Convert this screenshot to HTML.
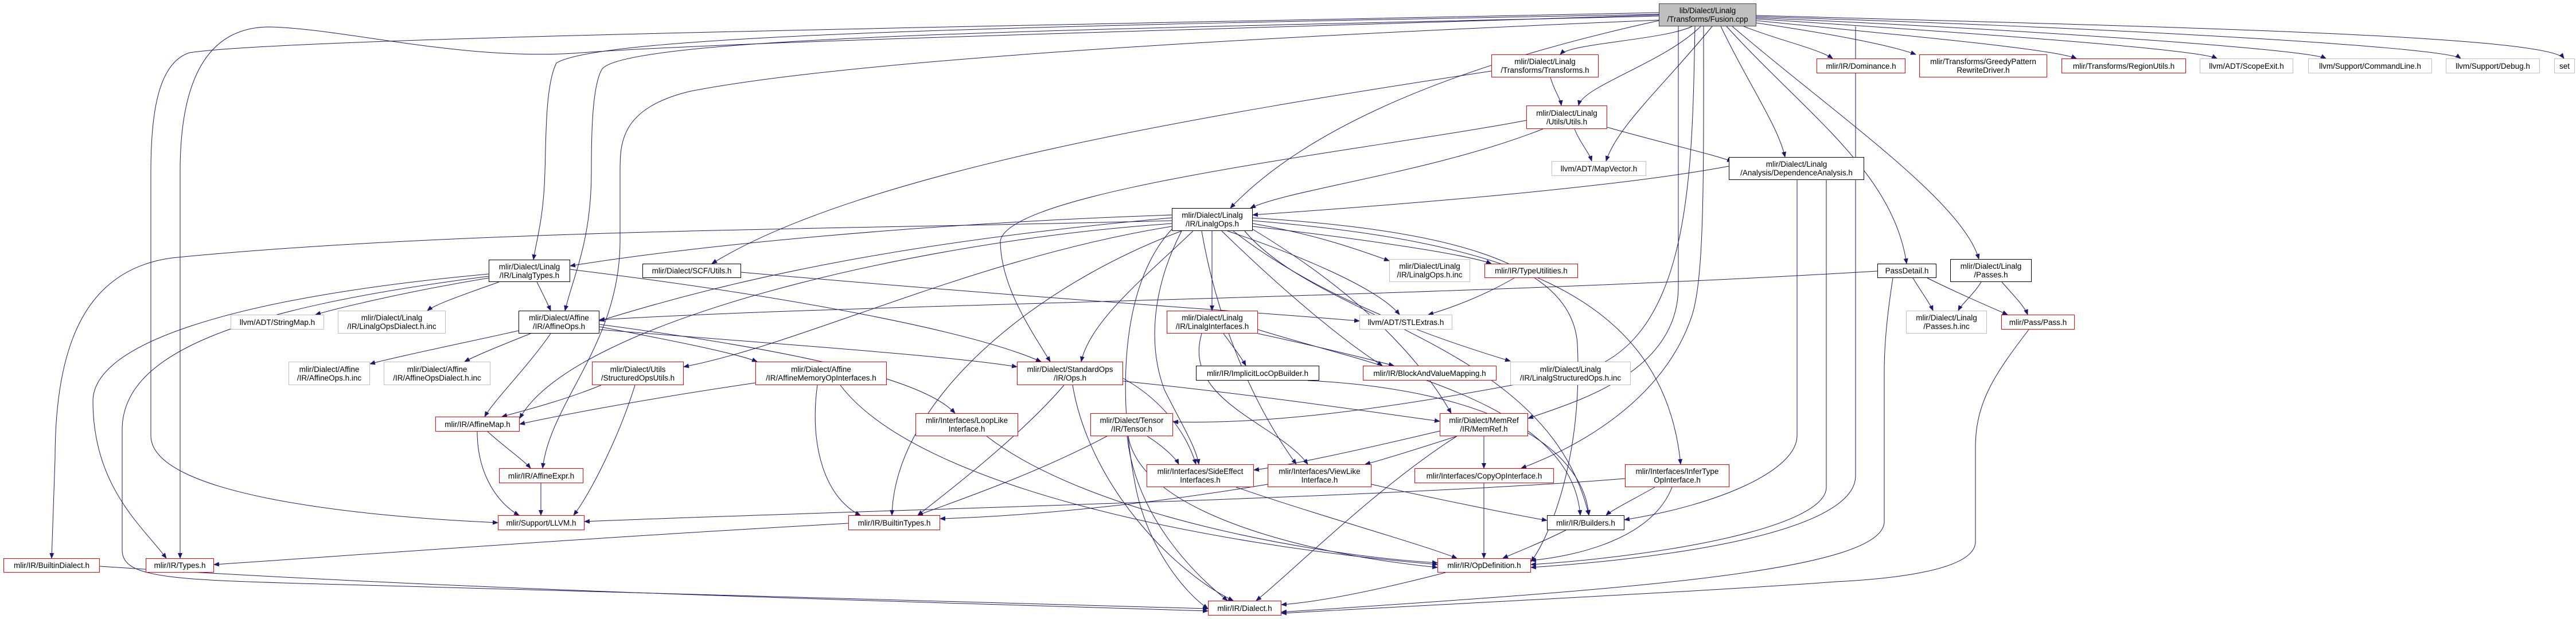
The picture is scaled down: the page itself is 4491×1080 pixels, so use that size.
<!DOCTYPE html>
<html><head><meta charset="utf-8"><style>
html,body{margin:0;padding:0;background:#fff;}
#c{position:relative;width:4491px;height:1080px;overflow:hidden;background:#fff;}
svg{position:absolute;left:0;top:0;}
.n{position:absolute;box-sizing:border-box;background:#fff;display:flex;flex-direction:column;justify-content:center;align-items:center;font-family:"Liberation Sans",Arial,sans-serif;font-size:13.5px;line-height:15px;color:#000;white-space:nowrap;text-align:center;}
.b{border:1.5px solid #000;}
.r{border:1.5px solid #ff0000;}
.g{border:1.5px solid #bfbfbf;}
.root{background:#bfbfbf;border:1.5px solid #404040;}
</style></head><body><div id="c">
<svg width="4491" height="1080" viewBox="0 0 4491 1080">
<defs><marker id="a" markerWidth="10" markerHeight="8" refX="9" refY="4" orient="auto" markerUnits="userSpaceOnUse"><path d="M0,0 L10,4 L0,8 z" fill="#191970"/></marker></defs>
<g fill="none" stroke="#191970" stroke-width="1" marker-end="url(#a)">
<path d="M2950 46 C2900 70,2740 75,2720 95"/>
<path d="M2965 46 C2900 110,2760 150,2752 184"/>
<path d="M2985 46 C2900 150,2820 220,2800 281"/>
<path d="M3000 46 C3050 150,3100 220,3112 274"/>
<path d="M3010 46 C3150 200,3300 300,3324 460"/>
<path d="M3020 46 C3200 200,3420 350,3450 452"/>
<path d="M3040 46 C3100 70,3170 85,3195 102"/>
<path d="M3062 40 C3200 60,3300 80,3340 95"/>
<path d="M3062 36 C3300 60,3580 85,3620 102"/>
<path d="M3062 33 C3400 55,3830 85,3865 102"/>
<path d="M3062 31 C3500 50,4020 85,4055 102"/>
<path d="M3062 29 C3600 45,4260 80,4290 102"/>
<path d="M3062 27 C3700 45,4440 60,4470 102"/>
<path d="M2892 36 C2600 100,2300 200,2145 363"/>
<path d="M2892 25 C1800 45,1050 60,970 110 C950 150,952 250,950 300 C948 380,935 420,930 453"/>
<path d="M2892 28 C2000 50,1100 60,1050 120 C1031 150,1031 250,1031 300 C1031 420,1000 480,985 542"/>
<path d="M2892 22 C1800 45,500 65,330 92 C275 110,263 200,263 300 L263 760 C263 860,600 900,868 912"/>
<path d="M2892 26 C2200 50,1300 70,1000 93 C800 105,600 50,470 47 C340 47,314 180,314 300 L314 974"/>
<path d="M2892 35 C2300 60,1500 100,1200 160 C1081 190,1081 250,1081 300 L1081 420 C1081 600,960 700,946 817"/>
<path d="M2926 46 C2926 200,2926 400,2926 500 C2926 650,2750 700,2664 730"/>
<path d="M2970 46 C2970 300,2972 480,2950 550 C2900 700,2750 780,2652 817"/>
<path d="M2955 46 C2950 300,2950 600,2750 650 C2400 720,2200 740,2045 736"/>
<path d="M2600 124 C2100 200,1500 300,1241 460"/>
<path d="M2703 135 C2710 160,2720 170,2722 184"/>
<path d="M2661 210 C2400 260,1760 330,1744 420 C1744 500,1800 580,1831 631"/>
<path d="M2690 225 C2500 300,2250 330,2180 363"/>
<path d="M2745 225 C2755 250,2770 265,2775 281"/>
<path d="M2802 222 C2900 250,2990 270,3020 282"/>
<path d="M3014 290 C2800 330,2400 360,2184 375"/>
<path d="M3133 314 L3133 760 C3133 820,3000 880,2832 907"/>
<path d="M3184 314 C3184 400,3184 600,3184 850 C3184 920,2900 970,2669 985"/>
<path d="M3235 46 C3235 300,3235 600,3235 830 C3235 930,2900 975,2669 990"/>
<path d="M3273 473 C2500 520,1500 530,1045 558"/>
<path d="M3335 485 C3350 510,3365 530,3370 542"/>
<path d="M3360 485 C3420 515,3480 540,3500 549"/>
<path d="M3454 492 C3440 515,3420 530,3414 542"/>
<path d="M3490 492 C3510 515,3530 535,3535 549"/>
<path d="M3300 485 C3290 550,3285 600,3285 650 L3285 910 C3285 1000,2800 1030,2234 1068"/>
<path d="M3537 575 C3480 650,3444 700,3444 780 L3444 945 C3444 995,3300 1010,3200 1015 C3000 1030,2600 1050,2234 1070"/>
<path d="M2043 375 C1600 390,1200 430,994 464"/>
<path d="M2043 380 C1600 420,1300 480,1045 560"/>
<path d="M2184 390 C2300 410,2380 440,2422 455"/>
<path d="M2184 395 C2400 420,2560 445,2600 460"/>
<path d="M2140 403 C2250 440,2400 500,2440 549"/>
<path d="M2113 403 L2113 542"/>
<path d="M2150 403 C2300 520,2500 590,2633 630"/>
<path d="M2130 403 C2250 520,2350 600,2410 638"/>
<path d="M2080 403 C2000 480,1900 560,1885 631"/>
<path d="M2043 395 C1700 450,1400 600,1192 640"/>
<path d="M2060 403 C2010 500,2000 600,2030 680 C2060 740,2085 780,2090 810"/>
<path d="M2095 403 C2120 550,2180 700,2260 810"/>
<path d="M2184 400 C2300 470,2450 580,2530 721"/>
<path d="M2184 385 C2600 420,2900 500,2930 810"/>
<path d="M2184 380 C2500 400,2740 450,2750 600 C2760 800,2700 940,2669 980"/>
<path d="M2170 403 C2300 560,2700 600,2770 899"/>
<path d="M2043 400 C1950 500,1950 700,1980 850 C2000 950,2060 1030,2106 1062"/>
<path d="M2043 385 C1500 400,800 400,300 450 C150 470,96 600,96 800 L90 974"/>
<path d="M2043 390 C1600 420,1000 560,906 730"/>
<path d="M2060 403 C1800 500,1560 700,1555 899"/>
<path d="M852 485 C700 510,580 540,550 549"/>
<path d="M870 492 C820 510,760 530,745 542"/>
<path d="M936 492 C945 510,955 530,960 542"/>
<path d="M994 470 C1400 520,1700 580,1815 631"/>
<path d="M852 478 C400 520,162 600,162 700 C162 850,250 920,290 974"/>
<path d="M852 482 C400 540,213 620,213 750 L213 960 C213 1010,300 1012,600 1020 L2106 1062"/>
<path d="M1292 475 C1800 520,2200 545,2370 560"/>
<path d="M904 577 C800 600,680 625,645 635"/>
<path d="M925 582 C880 600,830 620,810 631"/>
<path d="M960 582 C920 640,860 700,845 727"/>
<path d="M1045 570 C1150 590,1280 615,1320 631"/>
<path d="M1045 566 C1300 600,1600 650,1665 721"/>
<path d="M1045 575 C1350 600,1650 620,1773 640"/>
<path d="M1048 672 C980 700,900 720,875 727"/>
<path d="M1107 672 C1080 760,1030 860,1000 899"/>
<path d="M1317 668 C1100 700,950 730,906 740"/>
<path d="M1425 672 C1410 780,1440 870,1500 899"/>
<path d="M1465 672 C1600 850,2100 950,2506 985"/>
<path d="M1855 672 C1780 760,1650 860,1600 899"/>
<path d="M1958 660 C2030 700,2070 760,2085 810"/>
<path d="M1958 665 C2200 690,2400 720,2510 735"/>
<path d="M1870 672 C1900 850,2050 1000,2150 1048"/>
<path d="M1930 761 C1800 830,1650 880,1600 899"/>
<path d="M2000 761 C2030 780,2050 800,2055 810"/>
<path d="M1967 761 C1990 900,2300 970,2506 990"/>
<path d="M1965 761 C1980 900,2080 1000,2140 1048"/>
<path d="M1720 761 C1900 900,2300 970,2506 982"/>
<path d="M2510 752 C2350 790,2230 815,2186 820"/>
<path d="M2540 761 C2450 790,2400 805,2380 810"/>
<path d="M2587 761 L2587 817"/>
<path d="M2540 761 C2400 850,2250 1000,2190 1048"/>
<path d="M2133 582 C2150 605,2165 625,2172 638"/>
<path d="M2193 582 C2300 605,2400 630,2430 638"/>
<path d="M2095 582 C2060 700,2230 740,2280 810"/>
<path d="M2193 575 C2400 640,2740 700,2755 899"/>
<path d="M2280 664 C2600 680,2760 780,2770 899"/>
<path d="M850 753 C880 780,915 805,925 817"/>
<path d="M832 753 C832 830,870 880,905 899"/>
<path d="M943 843 L943 899"/>
<path d="M2155 850 C2300 900,2480 950,2540 974"/>
<path d="M2391 845 C2500 870,2650 900,2697 908"/>
<path d="M2210 845 C2000 880,1800 900,1639 905"/>
<path d="M2587 843 L2587 974"/>
<path d="M2885 850 C2850 870,2810 890,2800 899"/>
<path d="M2915 850 C2880 940,2750 970,2669 978"/>
<path d="M2833 835 C2400 870,1500 890,1019 910"/>
<path d="M2730 925 C2680 950,2640 965,2620 974"/>
<path d="M2520 999 C2400 1030,2300 1050,2234 1055"/>
<path d="M174 988 C800 1030,1600 1050,2106 1066"/>
<path d="M1479 913 C1000 940,600 970,373 985"/>
<path d="M2640 485 C2580 520,2520 540,2490 549"/>
</g></svg>

<div class="n root" style="left:2892px;top:6px;width:170px;height:40px">lib/Dialect/Linalg<br>/Transforms/Fusion.cpp</div>
<div class="n r" style="left:2600px;top:95px;width:187px;height:40px">mlir/Dialect/Linalg<br>/Transforms/Transforms.h</div>
<div class="n r" style="left:2661px;top:184px;width:141px;height:41px">mlir/Dialect/Linalg<br>/Utils/Utils.h</div>
<div class="n g" style="left:2705px;top:281px;width:165px;height:26px">llvm/ADT/MapVector.h</div>
<div class="n b" style="left:3014px;top:274px;width:236px;height:40px">mlir/Dialect/Linalg<br>/Analysis/DependenceAnalysis.h</div>
<div class="n r" style="left:3167px;top:102px;width:155px;height:26px">mlir/IR/Dominance.h</div>
<div class="n r" style="left:3346px;top:95px;width:223px;height:40px">mlir/Transforms/GreedyPattern<br>RewriteDriver.h</div>
<div class="n r" style="left:3594px;top:102px;width:217px;height:26px">mlir/Transforms/RegionUtils.h</div>
<div class="n g" style="left:3835px;top:102px;width:163px;height:26px">llvm/ADT/ScopeExit.h</div>
<div class="n g" style="left:4024px;top:102px;width:216px;height:26px">llvm/Support/CommandLine.h</div>
<div class="n g" style="left:4264px;top:102px;width:164px;height:26px">llvm/Support/Debug.h</div>
<div class="n g" style="left:4453px;top:102px;width:36px;height:26px">set</div>
<div class="n b" style="left:2043px;top:363px;width:141px;height:40px">mlir/Dialect/Linalg<br>/IR/LinalgOps.h</div>
<div class="n b" style="left:852px;top:453px;width:142px;height:39px">mlir/Dialect/Linalg<br>/IR/LinalgTypes.h</div>
<div class="n b" style="left:1120px;top:460px;width:172px;height:25px">mlir/Dialect/SCF/Utils.h</div>
<div class="n g" style="left:2422px;top:452px;width:141px;height:40px">mlir/Dialect/Linalg<br>/IR/LinalgOps.h.inc</div>
<div class="n r" style="left:2588px;top:460px;width:163px;height:25px">mlir/IR/TypeUtilities.h</div>
<div class="n b" style="left:3273px;top:460px;width:103px;height:25px">PassDetail.h</div>
<div class="n b" style="left:3400px;top:452px;width:142px;height:40px">mlir/Dialect/Linalg<br>/Passes.h</div>
<div class="n g" style="left:402px;top:549px;width:163px;height:26px">llvm/ADT/StringMap.h</div>
<div class="n g" style="left:589px;top:542px;width:188px;height:40px">mlir/Dialect/Linalg<br>/IR/LinalgOpsDialect.h.inc</div>
<div class="n b" style="left:904px;top:542px;width:141px;height:40px">mlir/Dialect/Affine<br>/IR/AffineOps.h</div>
<div class="n r" style="left:2034px;top:542px;width:159px;height:40px">mlir/Dialect/Linalg<br>/IR/LinalgInterfaces.h</div>
<div class="n g" style="left:2370px;top:549px;width:162px;height:26px">llvm/ADT/STLExtras.h</div>
<div class="n g" style="left:3323px;top:542px;width:141px;height:40px">mlir/Dialect/Linalg<br>/Passes.h.inc</div>
<div class="n r" style="left:3489px;top:549px;width:128px;height:26px">mlir/Pass/Pass.h</div>
<div class="n g" style="left:503px;top:631px;width:142px;height:41px">mlir/Dialect/Affine<br>/IR/AffineOps.h.inc</div>
<div class="n g" style="left:669px;top:631px;width:186px;height:41px">mlir/Dialect/Affine<br>/IR/AffineOpsDialect.h.inc</div>
<div class="n r" style="left:1032px;top:631px;width:160px;height:41px">mlir/Dialect/Utils<br>/StructuredOpsUtils.h</div>
<div class="n r" style="left:1317px;top:631px;width:229px;height:41px">mlir/Dialect/Affine<br>/IR/AffineMemoryOpInterfaces.h</div>
<div class="n r" style="left:1773px;top:631px;width:185px;height:41px">mlir/Dialect/StandardOps<br>/IR/Ops.h</div>
<div class="n b" style="left:2085px;top:638px;width:215px;height:26px">mlir/IR/ImplicitLocOpBuilder.h</div>
<div class="n r" style="left:2376px;top:638px;width:233px;height:26px">mlir/IR/BlockAndValueMapping.h</div>
<div class="n g" style="left:2633px;top:631px;width:210px;height:41px">mlir/Dialect/Linalg<br>/IR/LinalgStructuredOps.h.inc</div>
<div class="n r" style="left:759px;top:727px;width:147px;height:26px">mlir/IR/AffineMap.h</div>
<div class="n r" style="left:1596px;top:721px;width:179px;height:40px">mlir/Interfaces/LoopLike<br>Interface.h</div>
<div class="n r" style="left:1901px;top:721px;width:144px;height:40px">mlir/Dialect/Tensor<br>/IR/Tensor.h</div>
<div class="n r" style="left:2510px;top:721px;width:154px;height:40px">mlir/Dialect/MemRef<br>/IR/MemRef.h</div>
<div class="n r" style="left:870px;top:817px;width:147px;height:26px">mlir/IR/AffineExpr.h</div>
<div class="n r" style="left:1999px;top:810px;width:187px;height:40px">mlir/Interfaces/SideEffect<br>Interfaces.h</div>
<div class="n r" style="left:2210px;top:810px;width:181px;height:40px">mlir/Interfaces/ViewLike<br>Interface.h</div>
<div class="n r" style="left:2466px;top:817px;width:243px;height:26px">mlir/Interfaces/CopyOpInterface.h</div>
<div class="n r" style="left:2833px;top:810px;width:182px;height:40px">mlir/Interfaces/InferType<br>OpInterface.h</div>
<div class="n r" style="left:868px;top:899px;width:151px;height:26px">mlir/Support/LLVM.h</div>
<div class="n r" style="left:1479px;top:899px;width:160px;height:26px">mlir/IR/BuiltinTypes.h</div>
<div class="n b" style="left:2697px;top:899px;width:135px;height:26px">mlir/IR/Builders.h</div>
<div class="n r" style="left:6px;top:974px;width:168px;height:25px">mlir/IR/BuiltinDialect.h</div>
<div class="n r" style="left:254px;top:974px;width:119px;height:25px">mlir/IR/Types.h</div>
<div class="n r" style="left:2506px;top:974px;width:163px;height:25px">mlir/IR/OpDefinition.h</div>
<div class="n r" style="left:2106px;top:1048px;width:128px;height:26px">mlir/IR/Dialect.h</div>
</div></body></html>
